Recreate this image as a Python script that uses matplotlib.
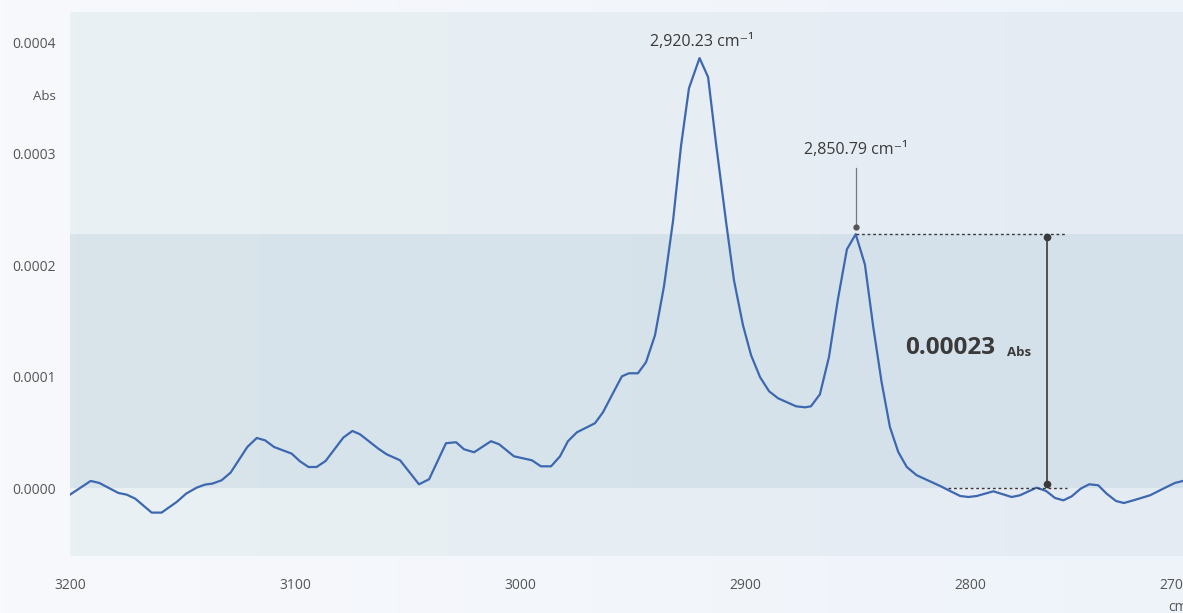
import matplotlib.pyplot as plt
import numpy as np
from matplotlib.colors import to_rgb
from matplotlib.transforms import ScaledTranslation

# spectrum (wavenumber cm-1, absorbance)
wavenumber = [3200, 3190.8, 3187, 3178.5, 3174.8, 3171, 3163.7, 3159.3, 3152.6, 3148.4,
              3143.7, 3140, 3136.7, 3132.6, 3128.6, 3121.2, 3117, 3113.3, 3109.3, 3101.5,
              3097.8, 3094, 3090.4, 3086.4, 3078.5, 3074.5, 3071.1, 3063, 3059.3, 3053.3,
              3044.9, 3040.4, 3032.9, 3028.4, 3024.9, 3020.4, 3012.9, 3009.3, 3002.7, 2994.7,
              2990.7, 2986.2, 2982.2, 2978.7, 2974.7, 2966.7, 2963.1, 2958.7, 2954.7, 2951.6,
              2947.6, 2944, 2940, 2936, 2932, 2928.4, 2924.9, 2920.2, 2916.4, 2912.9,
              2908.4, 2904.9, 2900.9, 2897.3, 2893.3, 2889.3, 2885.3, 2881.3, 2877.3, 2873.3,
              2870.7, 2866.7, 2862.7, 2858.7, 2854.7, 2850.8, 2846.7, 2843, 2839.3, 2835.6,
              2831.9, 2828.1, 2823.7, 2813.3, 2804.4, 2800.7, 2797, 2789.6, 2781.5, 2777.8,
              2770.4, 2766.2, 2762.2, 2758.5, 2754.8, 2750.8, 2747, 2743, 2739.3, 2735.1,
              2731.6, 2727.4, 2720, 2712.6, 2708.9, 2705.3, 2700]
absorb = [-5.7, 6.6, 4.8, -4.2, -5.7, -9.3, -21.8, -21.8, -12.3, -4.8,
          0.6, 3.3, 4.2, 7.2, 14.1, 37.0, 45.1, 43.0, 37.0, 31.1,
          24.2, 19.1, 19.1, 24.5, 45.5, 51.4, 48.4, 35.6, 30.5, 25.1,
          3.6, 8.1, 40.4, 41.3, 35.0, 32.3, 42.2, 39.5, 28.7, 25.1,
          19.7, 19.7, 28.7, 42.2, 50.2, 58.3, 68.2, 85.2, 100.4, 103.1,
          103.1, 113.0, 137.2, 181.2, 239.5, 307.6, 358.7, 385.7, 368.6, 309.4,
          238.6, 186.5, 146.2, 119.3, 99.6, 87.0, 80.7, 77.1, 73.5, 72.6,
          73.5, 84.3, 117.5, 169.5, 214.3, 227.8, 200.6, 144.7, 95.3, 55.0,
          32.6, 19.1, 11.7, 2.1, -6.9, -7.8, -6.9, -2.7, -7.8, -6.3,
          0.6, -2.4, -8.7, -10.8, -7.2, -0.3, 3.6, 2.7, -4.8, -11.4,
          -13.2, -10.8, -6.3, 1.2, 4.8, 6.6, 9.0]
absorb = np.array(absorb) * 1e-6

yticks = [0.0, 0.0001, 0.0002, 0.0003, 0.0004]
xticks = [3200, 3100, 3000, 2900, 2800, 2700]

peak1 = (2920.23, 0.0003857)
peak2 = (2850.79, 0.000228)
base_val = 0.0000006
measure_x = 2765.8

grey = '#555555'
dark = '#3a3a3a'
FONT = ['Open Sans', 'DejaVu Sans']
plt.rcParams['font.family'] = FONT

W, H = 1183, 613
fig = plt.figure(figsize=(W / 100, H / 100), dpi=100)

# figure background gradient
bg = fig.add_axes([0, 0, 1, 1], zorder=-2)
c1, c2 = np.array(to_rgb('#f8f9fc')), np.array(to_rgb('#eef3fa'))
t = np.linspace(0, 1, 256)
bg.imshow((c1[None, :] * (1 - t[:, None]) + c2[None, :] * t[:, None])[None, :, :],
          aspect='auto', extent=[0, 1, 0, 1])
bg.axis('off')

left, right = 70, 1195
top, bottom = 12, 556
ax = fig.add_axes([left / W, (H - bottom) / H, (right - left) / W, (bottom - top) / H])
ax.set_xlim(3200, 2700)
ax.set_ylim(-0.0000607, 0.000427)

# plot area gradient
p1, p2 = np.array(to_rgb('#eaf1f3')), np.array(to_rgb('#e4ebf4'))
grad = p1[None, :] * (1 - t[:, None]) + p2[None, :] * t[:, None]
ax.imshow(grad[None, :, :], aspect='auto', extent=[3200, 2700, -0.0000607, 0.000427], zorder=0)
ax.axhspan(0, peak2[1], color='#b9cfdc', alpha=0.35, lw=0, zorder=1)

ax.plot(wavenumber, absorb, color='#3d68b0', lw=1.6, zorder=3)

for s in ax.spines.values():
    s.set_visible(False)
ax.set_yticks(yticks)
ax.set_yticklabels(['%.4f' % v for v in yticks])
ax.set_xticks(xticks)
ax.set_xticklabels([str(v) for v in xticks])
ax.tick_params(length=0, colors=grey, labelsize=10)
ax.tick_params(axis='x', pad=15.5)
ax.tick_params(axis='y', pad=10)
# last x label is pushed inside the chart edge
lbl = ax.get_xticklabels()[-1]
lbl.set_transform(lbl.get_transform() + ScaledTranslation(-0.2, 0, fig.dpi_scale_trans))

fig.text(56 / W, 1 - 97 / H, 'Abs', ha='right', va='center', fontsize=9.5, color=grey)
fig.text(1168 / W, 1 - 600 / H, 'cm⁻¹', ha='left', va='top', fontsize=10, color=grey)

# peak labels
ax.text(peak1[0] - 1, 0.0004, '2,920.23 cm⁻¹', ha='center', va='center',
        fontsize=11.5, color=dark)
ax.text(peak2[0], 0.000303, '2,850.79 cm⁻¹', ha='center', va='center',
        fontsize=11.5, color=dark)
ax.plot([peak2[0], peak2[0]], [0.000234, 0.000287], color='#777777', lw=0.9, zorder=4)
ax.plot(peak2[0], 0.000234, 'o', ms=3.5, color='#555555', zorder=4)

# height measurement
ax.plot([peak2[0], 2757], [peak2[1], peak2[1]], ls=(0, (2, 2)), color=dark, lw=1, zorder=4)
ax.plot([2809.8, 2757], [base_val, base_val], ls=(0, (2, 2)), color=dark, lw=1, zorder=4)
ax.plot([measure_x, measure_x], [base_val + 0.000003, peak2[1] - 0.000003],
        color=dark, lw=1.2, zorder=4, marker='o', ms=4.5)
ax.text(2828.9, 0.0001256, '0.00023', ha='left', va='center', fontsize=17.5,
        fontweight='bold', color=dark)
ax.text(2783.6, 0.000122, 'Abs', ha='left', va='center', fontsize=9.5,
        fontweight='bold', color=dark)

fig.savefig('out.png', dpi=100)
